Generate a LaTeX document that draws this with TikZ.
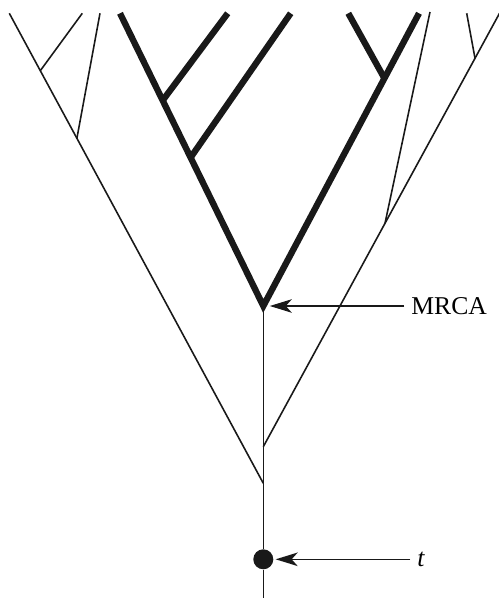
\documentclass[tikz,border=0pt]{standalone}
\usepackage{fontspec}
\setmainfont{Liberation Serif}
\usetikzlibrary{positioning, arrows.meta}

\begin{document}
\begin{tikzpicture}[
    x=0.02cm, y=-0.02cm,
    thinbranch/.style={line width=0.9pt, draw=black!90},
    thickbranch/.style={line width=3.6pt, draw=black!90, line join=miter},
    pointer/.style={-{Stealth[length=0.44cm, width=0.27cm, inset=0.12cm]}, line width=0.9pt, draw=black!90, fill=black!90},
    lbl/.style={font=\fontsize{14.6}{17}\selectfont, inner sep=4pt, anchor=west},
    tdot/.style={circle, fill=black!90, minimum size=0.4cm, inner sep=0pt}
  ]
  \useasboundingbox (0,0) rectangle (498,598);
  % stem
  \coordinate (root) at (263.3,598);
  \node[tdot] (tnode) at (263.3,559.3) {};
  \coordinate (jl) at (263.3,483.3);
  \coordinate (jr) at (263.3,446.7);
  \coordinate (mrca) at (263.3,306);
  \draw[thinbranch] (root) -- (tnode) -- (jl) -- (jr) -- (mrca);
  % left thin clade
  \coordinate (l0) at (9.3,13.3);
  \coordinate (l1) at (40.3,70.7);
  \coordinate (l2) at (76.9,138.3);
  \coordinate (l1tip) at (82.3,13.3);
  \coordinate (l2tip) at (100,13.3);
  \draw[thinbranch] (jl) -- (l2) -- (l1) -- (l0);
  \draw[thinbranch] (l1) -- (l1tip);
  \draw[thinbranch] (l2) -- (l2tip);
  % right thin clade
  \coordinate (r0) at (499.5,13.3);
  \coordinate (r1) at (385,223.3);
  \coordinate (r2) at (475,58.3);
  \coordinate (r1tip) at (430,12);
  \coordinate (r2tip) at (466.7,13.3);
  \draw[thinbranch] (jr) -- (r1) -- (r2) -- (r0);
  \draw[thinbranch] (r1) -- (r1tip);
  \draw[thinbranch] (r2) -- (r2tip);
  % thick clade
  \coordinate (a0) at (120,13.3);
  \coordinate (a1) at (163,100);
  \coordinate (a2) at (191,157);
  \coordinate (a1tip) at (227.7,13.3);
  \coordinate (a2tip) at (290.7,13.3);
  \coordinate (b0) at (419,13.3);
  \coordinate (b1) at (384.4,78.3);
  \coordinate (b1tip) at (348.3,13.3);
  \draw[thickbranch] (a0) -- (mrca) -- (b0);
  \draw[thickbranch] (a1) -- (a1tip);
  \draw[thickbranch] (a2) -- (a2tip);
  \draw[thickbranch] (b1) -- (b1tip);
  % labels
  \node[lbl] (mrcalbl) at (404,306) {MRCA};
  \node[lbl] (tlbl) at (410,559.3) {\textit{t}};
  \draw[pointer, shorten >=0.13cm] (mrcalbl.west) -- (mrca);
  \draw[pointer, shorten >=0.04cm] (tlbl.west) -- (tnode);
\end{tikzpicture}
\end{document}
